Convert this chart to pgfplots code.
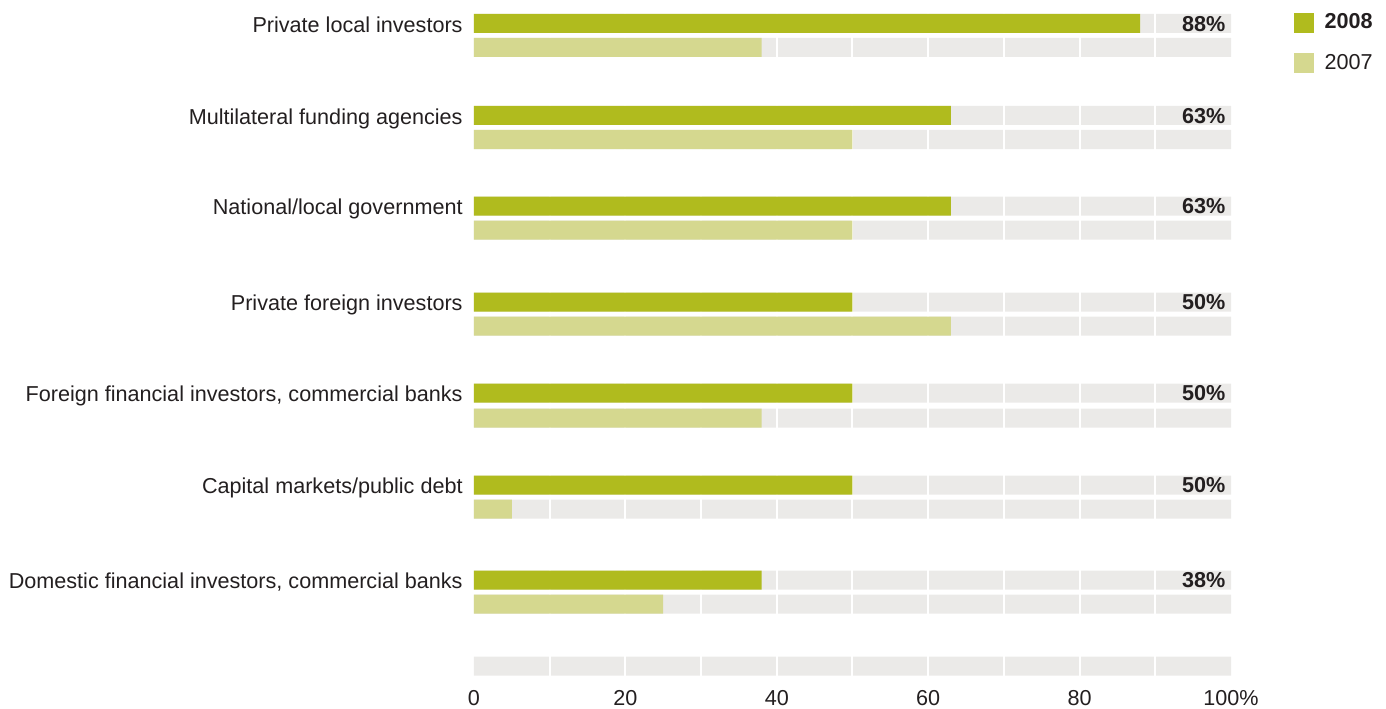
\documentclass[border=0pt]{standalone}
\usepackage{pgfplots}
\pgfplotsset{compat=1.18}
\usepackage{fontspec}
\setmainfont{Liberation Sans}
\definecolor{c08}{HTML}{B0BB1E}
\definecolor{c07}{HTML}{D5D88F}
\definecolor{bg}{HTML}{EBEAE8}
\definecolor{txt}{HTML}{231F20}
\begin{document}
\fontsize{10.8pt}{12.9pt}\selectfont
\begin{tikzpicture}
\path[use as bounding box] (-237pt,-11pt) rectangle (456pt,343pt);
\begin{axis}[
  scale only axis, width=378.5pt, height=343pt,
  xmin=0, xmax=100, ymin=-686, ymax=0,
  axis line style={draw=none}, major tick length=0pt,
  /pgf/number format/assume math mode=true,
  xtick={0,20,40,60,80,100}, xticklabels={0,20,40,60,80,100\%},
  xticklabel style={anchor=north, inner sep=0pt, yshift=-2pt, text=txt},
  ytick={-580,-485,-393,-302,-206,-115.5,-23.5},
  yticklabels={{Domestic financial investors, commercial banks},{Capital markets/public debt},{Foreign financial investors, commercial banks},{Private foreign investors},{National/local government},{Multilateral funding agencies},{Private local investors}},
  yticklabel style={anchor=base east, inner sep=0pt, xshift=-5.5pt, yshift=-4.4pt, text=txt},
  legend style={at={(axis cs:108.3,-12.7)}, anchor=north west, draw=none, fill=none,
    inner sep=0pt, outer sep=0pt, row sep=10.5pt,
    nodes={inner sep=0pt, anchor=west, text=txt},
    /tikz/every odd column/.append style={column sep=5.5pt}},
]
% grey background bands
\addplot[xbar, bar width=9.5pt, bar shift=0pt, fill=bg, draw=none, forget plot] coordinates {
 (100,-23.5) (100,-47.5) (100,-115.5) (100,-139.5) (100,-206) (100,-230)
 (100,-302) (100,-326) (100,-393) (100,-418) (100,-485) (100,-509)
 (100,-580) (100,-604) (100,-666)};
% white gridlines
\pgfplotsinvokeforeach{10,20,30,40,50,60,70,80,90}{
  \addplot[white, line width=1pt, forget plot] coordinates {(#1,-686) (#1,0)};
}
\addplot[xbar, bar width=9.5pt, bar shift=0pt, fill=c08, draw=none, forget plot] coordinates {
 (88,-23.5) (63,-115.5) (63,-206) (50,-302) (50,-393) (50,-485) (38,-580)};
\addplot[xbar, bar width=9.5pt, bar shift=0pt, fill=c07, draw=none, forget plot] coordinates {
 (38,-47.5) (50,-139.5) (50,-230) (63,-326) (38,-418) (5,-509) (25,-604)};
% value labels
\addplot[draw=none, forget plot, point meta=explicit symbolic,
  nodes near coords={\textbf{\pgfplotspointmeta\%}},
  nodes near coords style={anchor=base east, inner sep=0pt, yshift=-3.9pt, text=txt}] coordinates {
 (99.3,-23.5)[88] (99.3,-115.5)[63] (99.3,-206)[63] (99.3,-302)[50]
 (99.3,-393)[50] (99.3,-485)[50] (99.3,-580)[38]};
\addlegendimage{legend image code/.code={\fill[c08] (0pt,-4.75pt) rectangle (9.5pt,4.75pt);}}
\addlegendentry{\textbf{2008}}
\addlegendimage{legend image code/.code={\fill[c07] (0pt,-4.75pt) rectangle (9.5pt,4.75pt);}}
\addlegendentry{2007}
\end{axis}
\end{tikzpicture}
\end{document}
